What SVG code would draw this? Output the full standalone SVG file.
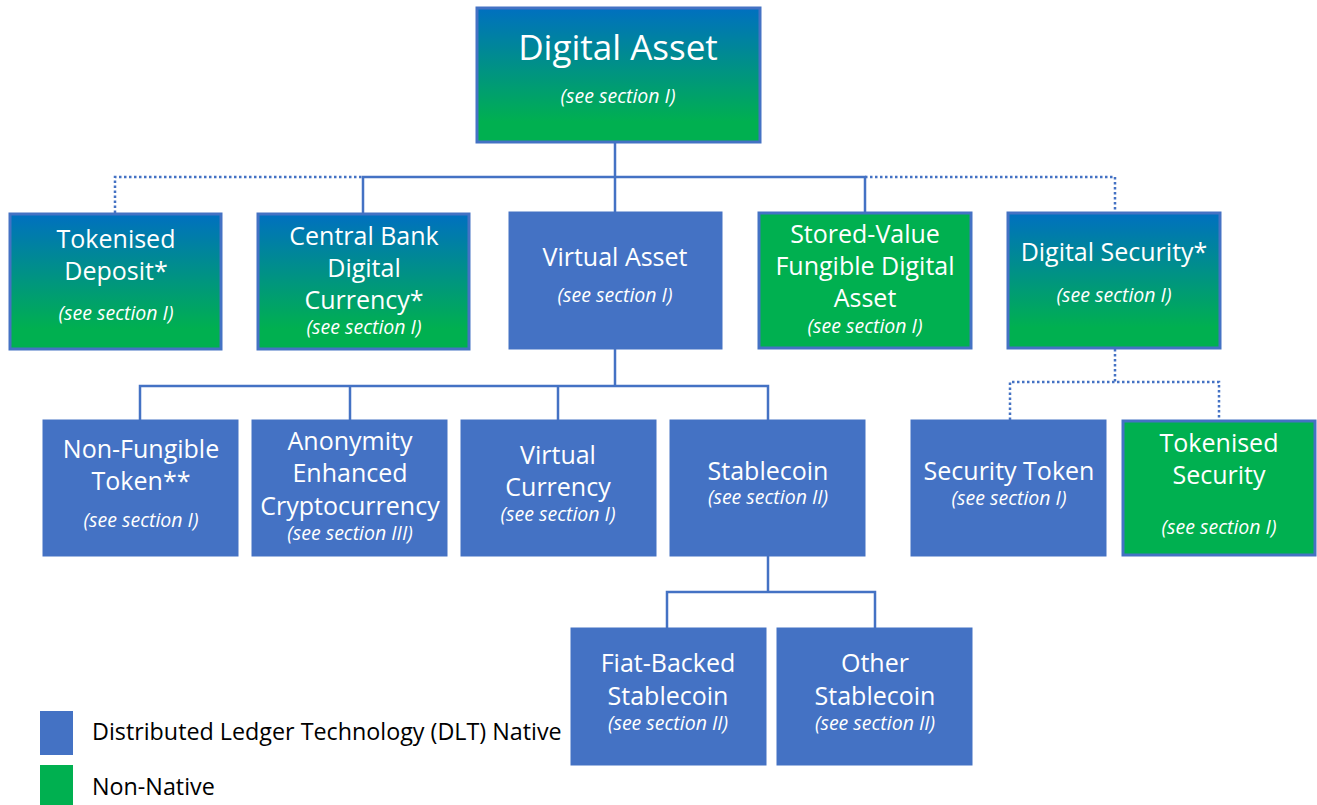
<svg xmlns="http://www.w3.org/2000/svg" width="1317" height="805" viewBox="0 0 1317 805">
<defs>
<linearGradient id="bg" x1="0" y1="0" x2="0" y2="1">
<stop offset="0" stop-color="#0070C0"/>
<stop offset="0.85" stop-color="#00B050"/>
<stop offset="1" stop-color="#00B050"/>
</linearGradient>
</defs>
<style>
.grad{fill:url(#bg);stroke:#4472C4;stroke-width:3}
.blue{fill:#4472C4;stroke:#4472C4;stroke-width:1}
.green{fill:#00B050;stroke:#4472C4;stroke-width:3}
.t{font-family:"Open Sans","Liberation Sans",sans-serif;fill:#fff;text-anchor:middle;font-size:25px}
.s{font-family:"Open Sans","Liberation Sans",sans-serif;fill:#fff;text-anchor:middle;font-size:19.5px;font-style:italic}
.c{fill:none;stroke:#4472C4;stroke-width:2.5}
.d{fill:none;stroke:#4472C4;stroke-width:2.5;stroke-dasharray:2.5 2.5}
.lg{font-family:"Open Sans","Liberation Sans",sans-serif;fill:#000;font-size:23.3px}
</style>
<g id="connectors">
<path class="c" d="M615 142V177M363 213V177H865V213M615 177V212"/>
<path class="d" d="M115 213V177H363M865 177H1115V213"/>
<path class="c" d="M615 349V386M140 420V386H768V420M350 386V420M558 386V420"/>
<path class="d" d="M1115 349V382M1010 420V382H1219V420"/>
<path class="c" d="M768 556V592M667 628V592H875V628"/>
</g>
<g id="digital-asset">
<rect class="grad" x="477" y="8" width="283" height="134"/>
<text class="t" x="618" y="60" style="font-size:35px">Digital Asset</text>
<text class="s" x="618" y="103">(see section I)</text>
</g>
<g id="tokenised-deposit">
<rect class="grad" x="10" y="214" width="211" height="135"/>
<text class="t" x="116" y="248">Tokenised</text>
<text class="t" x="116" y="280">Deposit*</text>
<text class="s" x="116" y="320">(see section I)</text>
</g>
<g id="cbdc">
<rect class="grad" x="258" y="214" width="211" height="135"/>
<text class="t" x="364" y="245">Central Bank</text>
<text class="t" x="364" y="277">Digital</text>
<text class="t" x="364" y="309">Currency*</text>
<text class="s" x="364" y="334">(see section I)</text>
</g>
<g id="virtual-asset">
<rect class="blue" x="509" y="212" width="213" height="137"/>
<text class="t" x="615" y="266">Virtual Asset</text>
<text class="s" x="615" y="302">(see section I)</text>
</g>
<g id="stored-value">
<rect class="green" x="759" y="213" width="212" height="135"/>
<text class="t" x="865" y="243">Stored-Value</text>
<text class="t" x="865" y="275">Fungible Digital</text>
<text class="t" x="865" y="307">Asset</text>
<text class="s" x="865" y="333">(see section I)</text>
</g>
<g id="digital-security">
<rect class="grad" x="1008" y="213" width="212" height="135"/>
<text class="t" x="1114" y="261">Digital Security*</text>
<text class="s" x="1114" y="302">(see section I)</text>
</g>
<g id="nft">
<rect class="blue" x="43" y="420" width="195" height="136"/>
<text class="t" x="141" y="458">Non-Fungible</text>
<text class="t" x="141" y="490">Token**</text>
<text class="s" x="141" y="527">(see section I)</text>
</g>
<g id="aec">
<rect class="blue" x="252" y="420" width="195" height="136"/>
<text class="t" x="350" y="450">Anonymity</text>
<text class="t" x="350" y="482">Enhanced</text>
<text class="t" x="350" y="515">Cryptocurrency</text>
<text class="s" x="350" y="540">(see section III)</text>
</g>
<g id="virtual-currency">
<rect class="blue" x="461" y="420" width="195" height="136"/>
<text class="t" x="558" y="464">Virtual</text>
<text class="t" x="558" y="496">Currency</text>
<text class="s" x="558" y="521">(see section I)</text>
</g>
<g id="stablecoin">
<rect class="blue" x="670" y="420" width="195" height="136"/>
<text class="t" x="768" y="480">Stablecoin</text>
<text class="s" x="768" y="504">(see section II)</text>
</g>
<g id="security-token">
<rect class="blue" x="911" y="420" width="195" height="136"/>
<text class="t" x="1009" y="480">Security Token</text>
<text class="s" x="1009" y="505">(see section I)</text>
</g>
<g id="tokenised-security">
<rect class="green" x="1123" y="421" width="192" height="134"/>
<text class="t" x="1219" y="452">Tokenised</text>
<text class="t" x="1219" y="484">Security</text>
<text class="s" x="1219" y="534">(see section I)</text>
</g>
<g id="fiat-backed">
<rect class="blue" x="571" y="628" width="195" height="137"/>
<text class="t" x="668" y="672">Fiat-Backed</text>
<text class="t" x="668" y="705">Stablecoin</text>
<text class="s" x="668" y="730">(see section II)</text>
</g>
<g id="other-stablecoin">
<rect class="blue" x="777" y="628" width="195" height="137"/>
<text class="t" x="875" y="672">Other</text>
<text class="t" x="875" y="705">Stablecoin</text>
<text class="s" x="875" y="730">(see section II)</text>
</g>
<g id="legend">
<rect x="40" y="711" width="33" height="44" fill="#4472C4"/>
<rect x="40" y="765" width="33" height="40" fill="#00B050"/>
<text class="lg" x="92" y="740">Distributed Ledger Technology (DLT) Native</text>
<text class="lg" x="92" y="795">Non-Native</text>
</g>
</svg>
